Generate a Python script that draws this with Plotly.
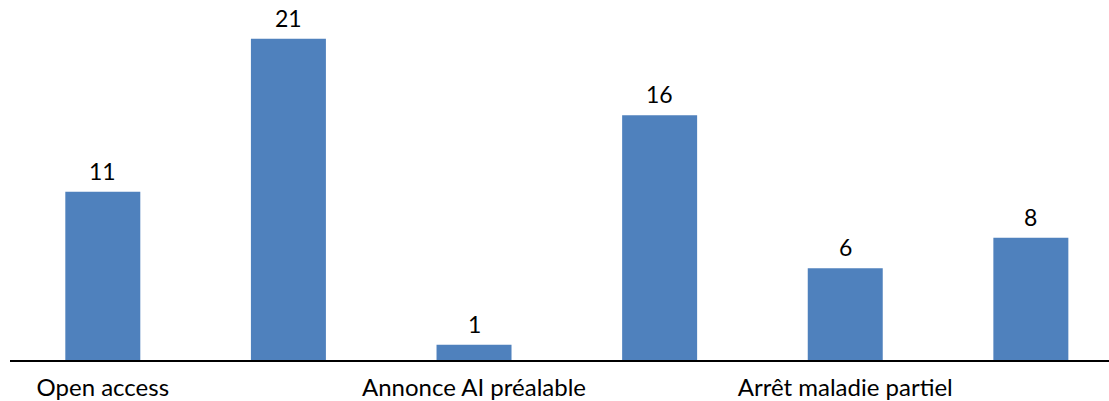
import plotly.graph_objects as go

# Bar positions (one per category slot) and counts
positions = [0, 1, 2, 3, 4, 5]
values = [11, 21, 1, 16, 6, 8]

# Only every other category gets a visible label
tick_positions = [0, 2, 4]
tick_labels = ["Open access", "Annonce AI préalable", "Arrêt maladie partiel"]

bar_color = "#4F81BD"
font_family = "Lato, 'Open Sans', sans-serif"

fig = go.Figure()
fig.add_trace(go.Bar(
    x=positions,
    y=values,
    width=0.404,
    marker=dict(color=bar_color, line=dict(width=0)),
    hoverinfo="skip",
))

# Value labels centred a fixed distance above each bar
for xp, v in zip(positions, values):
    fig.add_annotation(
        x=xp, y=v, text=str(v),
        showarrow=False,
        yanchor="middle", yshift=21,
        font=dict(family=font_family, size=23, color="#000000"),
    )

fig.update_layout(
    width=1109,
    height=401,
    margin=dict(l=10, r=0, t=0, b=39),
    paper_bgcolor="white",
    plot_bgcolor="white",
    showlegend=False,
    xaxis=dict(
        range=[-0.5, 5.421],
        tickmode="array",
        tickvals=tick_positions,
        ticktext=tick_labels,
        tickfont=dict(family=font_family, size=24, color="#000000"),
        ticklabelstandoff=5,
        showgrid=False,
        zeroline=False,
        showline=True,
        linecolor="#000000",
        linewidth=2,
        ticks="",
        ticklen=0,
    ),
    yaxis=dict(
        range=[0, 23.54],
        visible=False,
        showgrid=False,
        zeroline=False,
    ),
)

fig.write_html("out.html")
